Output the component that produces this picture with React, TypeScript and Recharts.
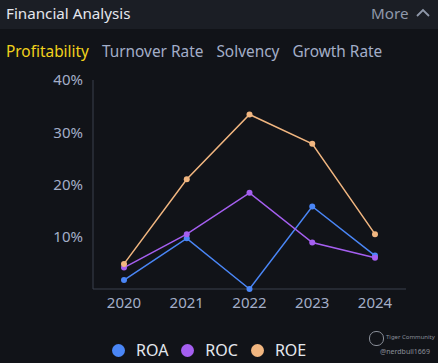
import React from 'react';
import { LineChart, Line, XAxis, YAxis } from 'recharts';

const years = ['2020', '2021', '2022', '2023', '2024'];
const roa = [1.7, 9.7, 0, 15.8, 6.4];
const roc = [4.1, 10.5, 18.4, 8.9, 6.0];
const roe = [4.8, 21.0, 33.4, 27.8, 10.5];
const yTicks = [10, 20, 30, 40];
const tabs = ['Profitability', 'Turnover Rate', 'Solvency', 'Growth Rate'];

const series = [
  { key: 'ROA', color: '#4a86f6' },
  { key: 'ROC', color: '#a55ff0' },
  { key: 'ROE', color: '#f1b680' },
];

const data = years.map((year, i) => ({ year, ROA: roa[i], ROC: roc[i], ROE: roe[i] }));

const font = '"Noto Sans", "Open Sans", sans-serif';

export default function App() {
  return (
    <div style={{ position: 'absolute', left: 0, top: 0, width: 438, height: 363, background: '#111318', fontFamily: font, overflow: 'hidden' }}>
      {/* header */}
      <div style={{ position: 'absolute', left: 0, top: 0, width: 438, height: 29, background: '#1b1e25' }}>
        <span style={{ position: 'absolute', left: 6, top: 3, fontSize: 15.2, color: '#e4e7ee' }}>Financial Analysis</span>
        <span style={{ position: 'absolute', left: 371, top: 3, fontSize: 15.2, color: '#8f98aa' }}>More</span>
        <svg style={{ position: 'absolute', left: 416, top: 8 }} width={14} height={10}>
          <polyline points="1,8 7,2 13,8" fill="none" stroke="#8f98aa" strokeWidth={1.8} />
        </svg>
      </div>
      {/* tabs */}
      <div style={{ position: 'absolute', left: 6, top: 41, display: 'flex', gap: 13, fontSize: 15.4, whiteSpace: 'nowrap' }}>
        {tabs.map((t, i) => (
          <span key={t} style={{ color: i === 0 ? '#f2d21c' : '#a3aec8' }}>{t}</span>
        ))}
      </div>

      <div style={{ position: 'absolute', left: 0, top: 0 }}>
        <LineChart width={438} height={363} data={data} margin={{ top: 80, right: 32, left: 33, bottom: 44 }}>
          <XAxis
            dataKey="year"
            stroke="#3b404c"
            tickLine={false}
            tick={{ fill: '#a3aec8', fontSize: 15, fontFamily: font }}
            padding={{ left: 31, right: 31 }}
            interval={0}
          />
          <YAxis
            width={60}
            domain={[0, 40]}
            ticks={yTicks}
            tickFormatter={(v: number) => `${v}%`}
            stroke="#3b404c"
            tickLine={false}
            tickMargin={4}
            tick={{ fill: '#a3aec8', fontSize: 15, fontFamily: font }}
          />
          {series.map((s) => (
            <Line
              key={s.key}
              type="linear"
              dataKey={s.key}
              stroke={s.color}
              strokeWidth={1.5}
              dot={{ r: 3, fill: s.color, stroke: s.color, strokeWidth: 0 }}
              isAnimationActive={false}
            />
          ))}
        </LineChart>
      </div>

      {/* legend */}
      <div style={{ position: 'absolute', left: 112, top: 339, display: 'flex', alignItems: 'center', fontSize: 16, whiteSpace: 'nowrap' }}>
        {series.map((s) => (
          <div key={s.key} style={{ display: 'flex', alignItems: 'center', marginRight: 13 }}>
            <span style={{ width: 13, height: 13, borderRadius: 7, background: s.color, display: 'inline-block', marginRight: 11 }} />
            <span style={{ color: '#e4e7ee' }}>{s.key}</span>
          </div>
        ))}
      </div>

      {/* watermark */}
      <div style={{ position: 'absolute', left: 369, top: 331, width: 13, height: 13, borderRadius: 7, border: '1px solid #8a8f99' }} />
      <span style={{ position: 'absolute', left: 386, top: 333, fontSize: 6, color: '#8a8f99', whiteSpace: 'nowrap' }}>Tiger Community</span>
      <span style={{ position: 'absolute', left: 380, top: 347, fontSize: 7, color: '#8a8f99', whiteSpace: 'nowrap' }}>@nerdbull1669</span>
    </div>
  );
}
